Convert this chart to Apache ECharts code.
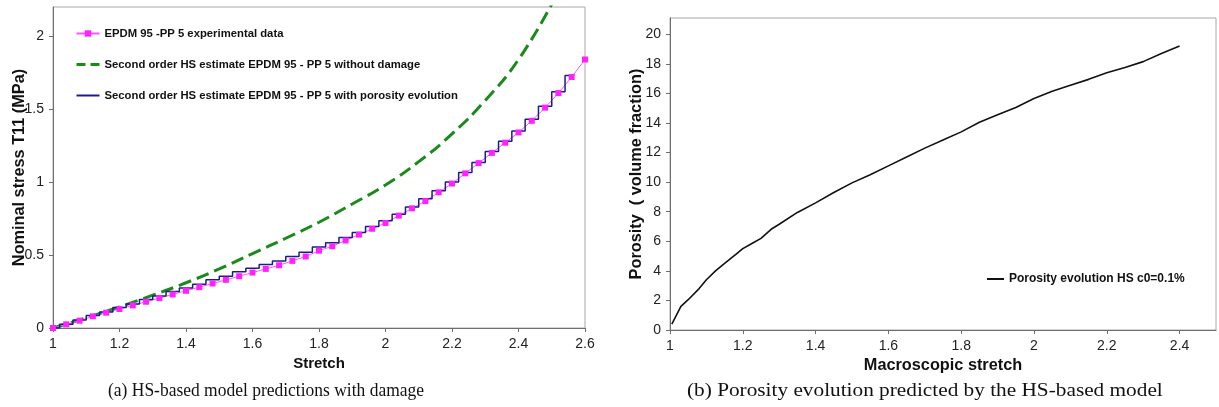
<!DOCTYPE html>
<html>
<head>
<meta charset="utf-8">
<title>HS-based model</title>
<script src="https://cdn.jsdelivr.net/npm/echarts@6/dist/echarts.min.js"></script>
<style>
	html, body { margin: 0; padding: 0; background: #fff; }
	#chart { width: 1219px; height: 407px; }
</style>
</head>
<body>
<div id="chart"></div>
<script>
// (a) stress - stretch
var expStretch = [1.00, 1.04, 1.08, 1.12, 1.16, 1.20, 1.24, 1.28, 1.32, 1.36, 1.40, 1.44, 1.48, 1.52, 1.56, 1.60, 1.64, 1.68, 1.72, 1.76,
	1.80, 1.84, 1.88, 1.92, 1.96, 2.00, 2.04, 2.08, 2.12, 2.16, 2.20, 2.24, 2.28, 2.32, 2.36, 2.40, 2.44, 2.48, 2.52, 2.56, 2.60];
var expStress = [0.00, 0.025, 0.05, 0.08, 0.105, 0.13, 0.155, 0.18, 0.205, 0.23, 0.255, 0.28, 0.305, 0.33, 0.355, 0.38, 0.405, 0.43, 0.46, 0.49,
	0.53, 0.56, 0.60, 0.64, 0.68, 0.72, 0.77, 0.82, 0.87, 0.93, 0.99, 1.06, 1.13, 1.20, 1.27, 1.34, 1.42, 1.51, 1.61, 1.72, 1.84];
var noDmgStretch = [1.0, 1.1, 1.2, 1.3, 1.4, 1.5, 1.6, 1.7, 1.8, 1.9, 2.0, 2.1, 2.2, 2.3, 2.4, 2.5];
var noDmgStress = [0, 0.07, 0.145, 0.225, 0.31, 0.405, 0.51, 0.615, 0.725, 0.85, 0.98, 1.14, 1.33, 1.56, 1.84, 2.22];
var porStretch = [1.00, 1.04, 1.08, 1.12, 1.16, 1.20, 1.24, 1.28, 1.32, 1.36, 1.40, 1.44, 1.48, 1.52, 1.56, 1.60, 1.64, 1.68, 1.72, 1.76,
	1.80, 1.84, 1.88, 1.92, 1.96, 2.00, 2.04, 2.08, 2.12, 2.16, 2.20, 2.24, 2.28, 2.32, 2.36, 2.40, 2.44, 2.48, 2.52, 2.56];
var porStress = [0, 0.025, 0.055, 0.085, 0.11, 0.14, 0.165, 0.195, 0.22, 0.25, 0.275, 0.30, 0.33, 0.355, 0.385, 0.41, 0.435, 0.46, 0.49, 0.52,
	0.555, 0.585, 0.62, 0.655, 0.695, 0.735, 0.78, 0.83, 0.885, 0.94, 1.00, 1.065, 1.135, 1.21, 1.28, 1.35, 1.43, 1.52, 1.62, 1.73];
var stretchTicksA = [1, 1.2, 1.4, 1.6, 1.8, 2, 2.2, 2.4, 2.6];
var stressTicks = [0, 0.5, 1, 1.5, 2];

// (b) porosity - macroscopic stretch
var macroStretch = [1.005, 1.03, 1.05, 1.08, 1.10, 1.125, 1.15, 1.18, 1.20, 1.225, 1.25, 1.28, 1.30, 1.35, 1.40, 1.45, 1.50, 1.55, 1.60,
	1.65, 1.70, 1.75, 1.80, 1.85, 1.90, 1.95, 2.00, 2.05, 2.10, 2.15, 2.20, 2.25, 2.30, 2.35, 2.40];
var porosity = [0.4, 1.6, 2.05, 2.8, 3.4, 4.0, 4.5, 5.1, 5.5, 5.85, 6.2, 6.85, 7.15, 7.95, 8.6, 9.3, 9.95, 10.5, 11.1,
	11.7, 12.3, 12.85, 13.4, 14.05, 14.55, 15.05, 15.65, 16.15, 16.55, 16.95, 17.4, 17.75, 18.15, 18.7, 19.2];
var stretchTicksB = [1, 1.2, 1.4, 1.6, 1.8, 2, 2.2, 2.4];
var porosityTicks = [0, 2, 4, 6, 8, 10, 12, 14, 16, 18, 20];

var names = ['EPDM 95 -PP 5 experimental data',
	'Second order HS estimate EPDM 95 - PP 5 without damage',
	'Second order HS estimate EPDM 95 - PP 5 with porosity evolution',
	'Porosity evolution HS c0=0.1%'];

var FONT = '"Liberation Sans", Arial, Helvetica, sans-serif';
var SERIF = '19px "Liberation Serif", "Times New Roman", serif';

function pairs(xs, ys) {
	var out = [];
	for (var i = 0; i < xs.length; i++) {
		out.push([xs[i], ys[i]]);
	}
	return out;
}

// 坐标轴通用设置
function valueAxis(idx, min, max, ticks, name, gap, nameSize, moveOverlap) {
	return {
		type : 'value',
		gridIndex : idx,
		min : min,
		max : max,
		name : name,
		nameLocation : 'middle',
		nameGap : gap,
		nameMoveOverlap : moveOverlap,
		nameTextStyle : { fontFamily : FONT, fontWeight : 'bold', fontSize : nameSize, color : '#111' },
		axisLine : { show : true, lineStyle : { color : '#6e6e6e', width : 1 } },
		axisTick : { show : true, length : 4, customValues : ticks, lineStyle : { color : '#6e6e6e' } },
		axisLabel : { customValues : ticks, fontFamily : FONT, fontSize : 14, color : '#222', margin : 9 },
		splitLine : { show : false }
	};
}

// 图例里只画线, 不画点
var noDot = { opacity : 0 };

var myChart = echarts.init(document.getElementById('chart'));
var option = {
	animation : false,
	backgroundColor : '#fff',
	grid : [{
		left : 53, top : 7, width : 532, height : 321,
		show : true, borderColor : '#a8a8a8', borderWidth : 1, outerBoundsMode : 'none'
	}, {
		left : 670, top : 18, width : 546, height : 312,
		show : true, borderColor : '#a8a8a8', borderWidth : 1, outerBoundsMode : 'none'
	}],
	xAxis : [
		valueAxis(0, 1, 2.6, stretchTicksA, 'Stretch', 25, 15, true),
		valueAxis(1, 1, 2.5, stretchTicksB, 'Macroscopic stretch', 26, 16.3, true)
	],
	yAxis : [
		valueAxis(0, 0, 2.2, stressTicks, 'Nominal stress T11 (MPa)', 25, 16.3, false),
		valueAxis(1, 0, 21.1, porosityTicks, 'Porosity  ( volume fraction)', 25, 16.3, false)
	],
	legend : [{
		data : [
			{ name : names[0] },
			{ name : names[1], itemStyle : noDot, lineStyle : { type : [9, 5], width : 3 } },
			{ name : names[2], itemStyle : noDot }
		],
		orient : 'vertical',
		left : 70, top : 23,
		itemWidth : 23, itemHeight : 8, itemGap : 20,
		textStyle : { fontFamily : FONT, fontWeight : 'bold', fontSize : 11.3, color : '#111' }
	}, {
		data : [{ name : names[3], itemStyle : noDot }],
		left : 981, top : 268,
		itemWidth : 17, itemHeight : 8,
		textStyle : { fontFamily : FONT, fontWeight : 'bold', fontSize : 12, color : '#111' }
	}],
	series : [{
		name : names[1],
		type : 'line',
		xAxisIndex : 0, yAxisIndex : 0,
		symbol : 'none',
		smooth : true,
		lineStyle : { color : '#1a8a1a', width : 3, type : [13, 6] },
		itemStyle : { color : '#1a8a1a' },
		data : pairs(noDmgStretch, noDmgStress)
	}, {
		name : names[0],
		type : 'line',
		xAxisIndex : 0, yAxisIndex : 0,
		symbol : 'rect',
		symbolSize : 6,
		lineStyle : { color : '#ff55ff', width : 1 },
		itemStyle : { color : '#ff22ff' },
		data : pairs(expStretch, expStress)
	}, {
		name : names[2],
		type : 'line',
		xAxisIndex : 0, yAxisIndex : 0,
		symbol : 'none',
		step : 'middle',
		lineStyle : { color : '#1c1c8e', width : 1.5 },
		itemStyle : { color : '#1c1c8e' },
		data : pairs(porStretch, porStress)
	}, {
		name : names[3],
		type : 'line',
		xAxisIndex : 1, yAxisIndex : 1,
		symbol : 'none',
		lineStyle : { color : '#111', width : 1.6 },
		itemStyle : { color : '#111' },
		data : pairs(macroStretch, porosity)
	}],
	// 图题
	graphic : [{
		type : 'text', x : 108, y : 391, scaleX : 0.92,
		style : { text : '(a) HS-based model predictions with damage', font : SERIF, fill : '#111', textVerticalAlign : 'middle' }
	}, {
		type : 'text', x : 687, y : 391, scaleX : 1.12,
		style : { text : '(b) Porosity evolution predicted by the HS-based model', font : SERIF, fill : '#111', textVerticalAlign : 'middle' }
	}]
};
myChart.setOption(option);
</script>
</body>
</html>
